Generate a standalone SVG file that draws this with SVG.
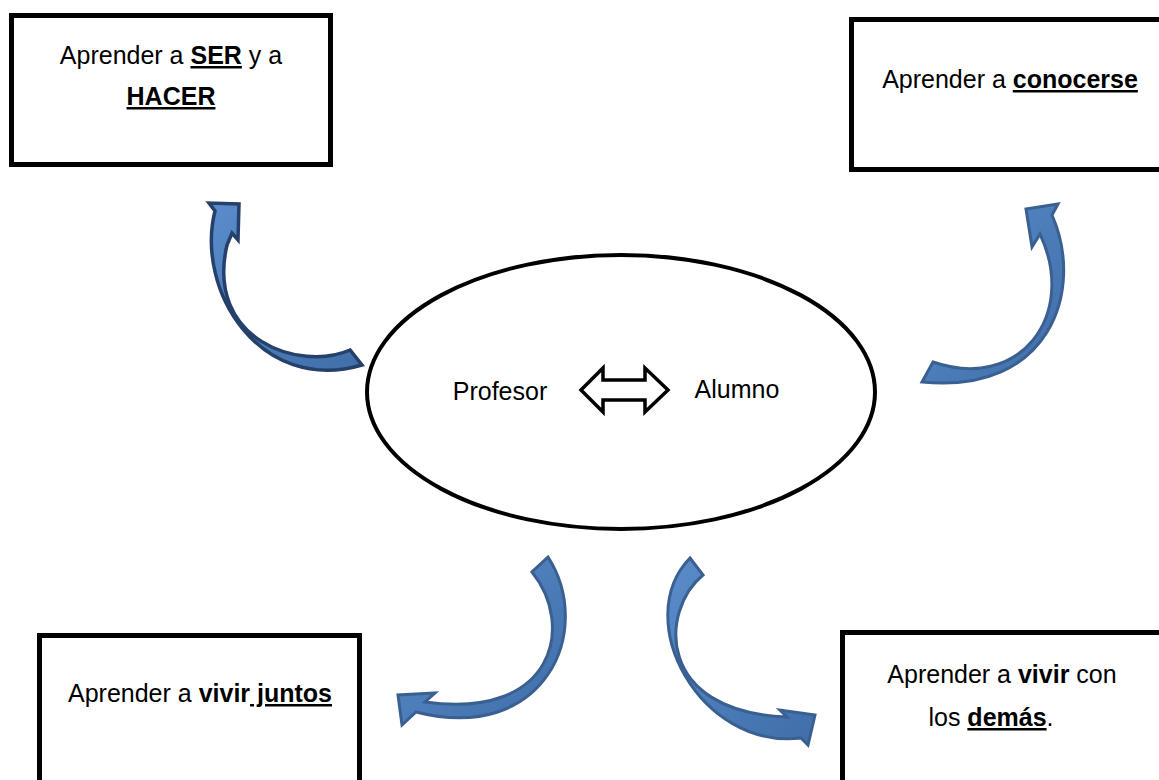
<svg xmlns="http://www.w3.org/2000/svg" width="1159" height="780" viewBox="0 0 1159 780">
  <defs>
    <linearGradient id="blueFill" x1="0" y1="0" x2="1" y2="1">
      <stop offset="0" stop-color="#5A8CCB"/>
      <stop offset="1" stop-color="#3F6EA8"/>
    </linearGradient>
    <style>
      .box { fill: #ffffff; stroke: #000000; stroke-width: 5; }
      .lbl { font-family: "Liberation Sans", Arial, sans-serif; font-size: 25px; fill: #000000; }
      .b { font-weight: bold; }
      .u { text-decoration: underline; }
      .curv { fill: url(#blueFill); stroke: #3A6091; stroke-width: 3; stroke-linejoin: miter; }
      .curv.dark { stroke: #25406A; stroke-width: 3.5; }
    </style>
  </defs>
  <rect x="0" y="0" width="1159" height="780" fill="#ffffff"/>

  <g id="node-ser-hacer">
    <rect class="box" x="11.5" y="15.5" width="319" height="149"/>
    <text class="lbl" x="171" y="64" text-anchor="middle">Aprender a <tspan class="b u">SER</tspan> y a</text>
    <text class="lbl" x="171" y="105" text-anchor="middle"><tspan class="b u">HACER</tspan></text>
  </g>

  <g id="node-conocerse">
    <rect class="box" x="851.5" y="19.5" width="330" height="150"/>
    <text class="lbl" x="1010" y="88" text-anchor="middle">Aprender a <tspan class="b u">conocerse</tspan></text>
  </g>

  <g id="node-vivir-juntos">
    <rect class="box" x="39.5" y="635.5" width="320" height="200"/>
    <text class="lbl" x="200" y="702" text-anchor="middle">Aprender a <tspan class="b">vivir</tspan><tspan class="b u"> juntos</tspan></text>
  </g>

  <g id="node-vivir-demas">
    <rect class="box" x="842.5" y="632.5" width="400" height="200"/>
    <text class="lbl" x="1002" y="683" text-anchor="middle">Aprender a <tspan class="b">vivir</tspan> con</text>
    <text class="lbl" x="991" y="726" text-anchor="middle">los <tspan class="b u">demás</tspan>.</text>
  </g>

  <g id="node-center">
    <ellipse cx="621" cy="392" rx="254" ry="137" fill="#ffffff" stroke="#000000" stroke-width="4"/>
    <text class="lbl" x="500" y="400" text-anchor="middle">Profesor</text>
    <text class="lbl" x="737" y="398" text-anchor="middle">Alumno</text>
    <path d="M581,390 L603,368 L603,380 L645,380 L645,368 L668,390 L645,412 L645,400 L603,400 L603,412 Z" fill="#ffffff" stroke="#000000" stroke-width="3.5" stroke-linejoin="miter"/>
  </g>

  <g id="connectors">
    <path class="curv dark" d="M350,350 C300,372 205,340 227,245 L232,233 L238,240 L239,204 L209,203 L215,211 C195,290 260,395 362,365 Z"/>
    <path class="curv" d="M933,362 C1020,392 1078,315 1040,234 L1032,247 L1026,209 L1058,204 L1052,215 C1085,290 1050,395 922,382 Z"/>
    <path class="curv" d="M548,557 L532,572 C575,625 555,720 425,702 L435,693 L398,695 L402,725 L416,712 C545,745 595,630 548,557 Z"/>
    <path class="curv" d="M690,558 L703,575 C660,610 655,712 787,717 L780,710 L815,715 L808,745 L801,738 C700,750 630,620 690,558 Z"/>
  </g>
</svg>
